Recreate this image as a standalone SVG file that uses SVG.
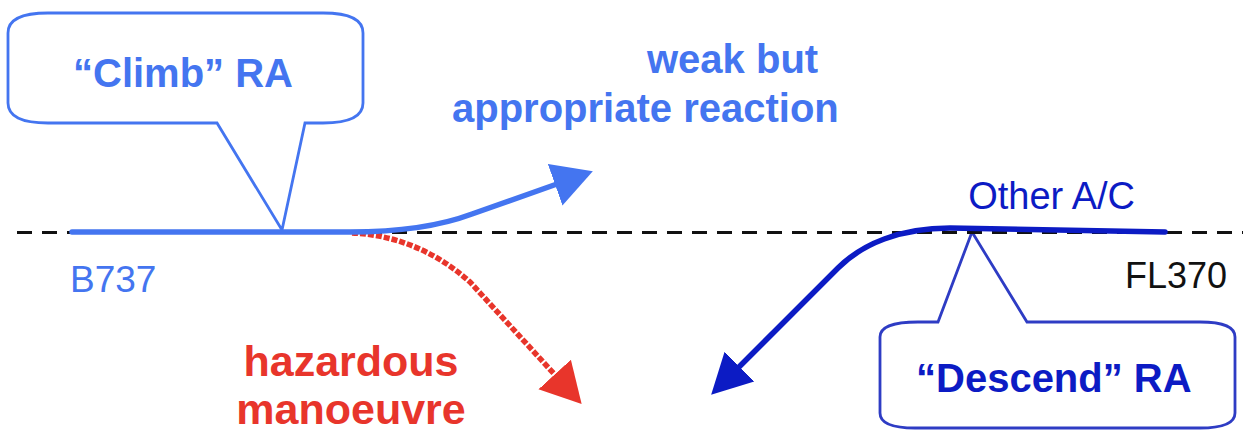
<svg xmlns="http://www.w3.org/2000/svg" width="1243" height="432" viewBox="0 0 1243 432">
  <style>
    .lbl { font-family: "Liberation Sans", Arial, sans-serif; }
    .b { font-weight: bold; }
    .lb { fill: #4475F0; }
    .db { fill: #0C1BC4; }
    .rd { fill: #E8352B; }
    .callout { fill: #fff; stroke-width: 2.8; stroke-linejoin: miter; }
  </style>
  <defs>
    <marker id="ah-lb" markerUnits="userSpaceOnUse" markerWidth="44" markerHeight="46" viewBox="0 -23 44 46" refX="2" refY="0" orient="auto">
      <path d="M0,-22 L40,0 L0,22 Z" fill="#4475F0"/>
    </marker>
    <marker id="ah-rd" markerUnits="userSpaceOnUse" markerWidth="44" markerHeight="46" viewBox="0 -23 44 46" refX="2" refY="0" orient="auto">
      <path d="M0,-22 L40,0 L0,22 Z" fill="#E8352B"/>
    </marker>
    <marker id="ah-db" markerUnits="userSpaceOnUse" markerWidth="44" markerHeight="46" viewBox="0 -23 44 46" refX="2" refY="0" orient="auto">
      <path d="M0,-21 L40,0 L0,21 Z" fill="#0C1BC4"/>
    </marker>
  </defs>
  <rect width="1243" height="432" fill="#fff"/>

  <g id="climb-callout">
    <path class="callout" stroke="#4475F0" d="M48,13 L323,13 Q363,13 363,33 L363,103 Q363,123 323,123 L305,123 L282,230 L217,123 L48,123 Q8,123 8,103 L8,33 Q8,13 48,13 Z"/>
    <text class="lbl b lb" x="73" y="87" font-size="40">“Climb” RA</text>
  </g>

  <g id="descend-callout">
    <path class="callout" stroke="#2E3CC4" d="M918,322 L938,322 L972,232 L1027,322 L1200,322 Q1235,322 1235,337 L1235,413 Q1235,428 1200,428 L915,428 Q880,428 880,413 L880,337 Q880,322 918,322 Z"/>
    <text class="lbl b db" x="916" y="392" font-size="40">“Descend” RA</text>
  </g>

  <g id="connectors" fill="none">
    <line id="fl370-line" x1="17" y1="232.5" x2="1243" y2="232.5" stroke="#111" stroke-width="3" stroke-dasharray="15 10"/>
    <path id="hazardous-path" d="M352,233 C400,235 440,255 470,282 L556,376" stroke="#E8352B" stroke-width="5.5" stroke-dasharray="6 2" marker-end="url(#ah-rd)"/>
    <path id="b737-path" d="M72,232 L350,232 C400,232 440,226 472,214 L557,184" stroke="#4475F0" stroke-width="5.5" stroke-linecap="round" marker-end="url(#ah-lb)"/>
    <path id="other-path" d="M1165,232 L950,228 C900,228 862,244 838,268 L738,368" stroke="#0C1BC4" stroke-width="5.5" stroke-linecap="round" marker-end="url(#ah-db)"/>
  </g>

  <g id="b737">
    <text class="lbl lb" x="70" y="292" font-size="37">B737</text>
  </g>
  <g id="weak-reaction">
    <text class="lbl b lb" x="647" y="73" font-size="40">weak but</text>
    <text class="lbl b lb" x="452" y="122" font-size="40">appropriate reaction</text>
  </g>
  <g id="hazardous">
    <text class="lbl b rd" x="351" y="376" font-size="43" text-anchor="middle">hazardous</text>
    <text class="lbl b rd" x="351" y="424" font-size="43" text-anchor="middle">manoeuvre</text>
  </g>
  <g id="other-ac">
    <text class="lbl db" x="1135" y="209" font-size="38" text-anchor="end">Other A/C</text>
  </g>
  <g id="fl370">
    <text class="lbl" x="1125" y="288" font-size="36" fill="#111">FL370</text>
  </g>
</svg>
